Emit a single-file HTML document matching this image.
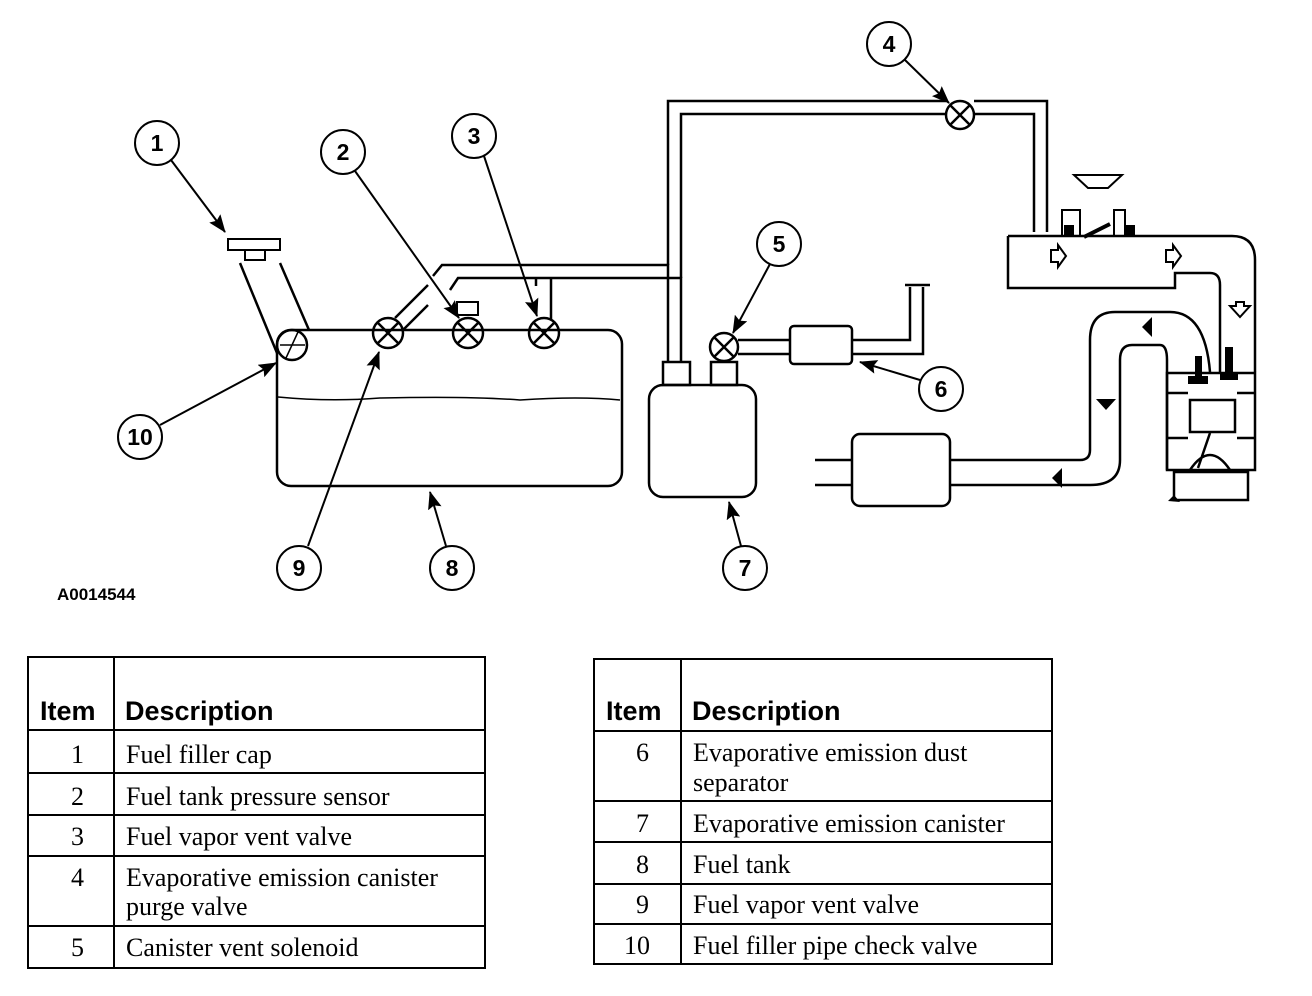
<!DOCTYPE html>
<html><head><meta charset="utf-8"><style>
body{margin:0;background:#fff;width:1312px;height:996px;overflow:hidden}
svg{position:absolute;left:0;top:0}
.n{font:bold 23px "Liberation Sans",sans-serif}
.h{font:bold 27px "Liberation Sans",sans-serif}
.t{font:26px "Liberation Serif",serif}
</style></head><body>
<svg width="1312" height="996" viewBox="0 0 1312 996" fill="none" stroke="#000" stroke-width="2.5">
<defs><marker id="a" markerWidth="18" markerHeight="14" refX="17" refY="7" orient="auto" markerUnits="userSpaceOnUse" viewBox="0 0 18 14"><path d="M0,0 L18,7 L0,14 L3,7z" fill="#000" stroke="none"/></marker></defs>
<!-- tank -->
<rect x="277" y="330" width="345" height="156" rx="14"/>
<path d="M278,397 Q330,402 380,398 Q470,396 520,400 Q580,396 620,400" stroke-width="1.5"/>
<!-- filler -->
<rect x="228" y="239" width="52" height="11" stroke-width="2"/>
<rect x="245" y="250" width="20" height="10" stroke-width="2"/>
<path d="M240,263 L277,353 M280,263 L309,330"/>
<circle cx="292" cy="345" r="15"/>
<path d="M280,345 L305,345 M286,358 L298,332" stroke-width="1.5"/>
<!-- valves -->
<g stroke-width="2.5">
<circle cx="388" cy="333" r="15"/><path d="M377,322 L399,344 M399,322 L377,344"/>
<circle cx="468" cy="333" r="15"/><path d="M457,322 L479,344 M479,322 L457,344"/>
<circle cx="544" cy="333" r="15"/><path d="M533,322 L555,344 M555,322 L533,344"/>
<circle cx="724" cy="347" r="14"/><path d="M714,337 L734,357 M734,337 L714,357"/>
<circle cx="960" cy="115" r="14"/><path d="M950,105 L970,125 M970,105 L950,125"/>
</g>
<rect x="457" y="302" width="21" height="13" stroke-width="2"/>
<!-- pipes -->
<path d="M395,318 L428,285 M403,330 L428,305"/>
<path d="M433,276 L442,265 L668,265 L668,362 M450,290 L458,278 L681,278 L681,362"/>
<path d="M551,278 L551,319 M536,278 L536,286"/>
<path d="M668,265 L668,101 L946,101 M974,101 L1047,101 L1047,232 M681,278 L681,114 L946,114 M974,114 L1034,114 L1034,232"/>
<!-- canister -->
<rect x="649" y="385" width="107" height="112" rx="14"/>
<rect x="663" y="362" width="27" height="23"/><rect x="711" y="362" width="26" height="23"/>
<path d="M738,340 L790,340 M738,354 L790,354"/>
<rect x="790" y="326" width="62" height="38" rx="4"/>
<path d="M852,340 L910,340 L910,287 M852,354 L923,354 L923,287 M905,285 L930,285"/>
<!-- engine -->
<path d="M1008,236 L1232,236 Q1255,236 1255,260 L1255,372"/>
<path d="M1008,236 L1008,288 L1175,288 L1175,273 L1210,273 Q1220,273 1220,285 L1220,372"/>
<path d="M1074,175 L1122,175 L1108,188 L1088,188z" stroke-width="2"/>
<path d="M1062,236 L1062,210 L1080,210 L1080,236 M1114,236 L1114,210 L1125,210 L1125,236" stroke-width="2"/>
<path d="M1084,237 L1110,224" stroke-width="4"/>
<path d="M1051,250 L1058,250 L1058,245 L1066,256 L1058,267 L1058,262 L1051,262z M1166,250 L1173,250 L1173,245 L1181,256 L1173,267 L1173,262 L1166,262z" stroke-width="2"/>
<path d="M1230,306 L1236,306 L1236,302 L1244,302 L1244,306 L1250,306 L1240,317z" stroke-width="2"/>
<path d="M1210,372 Q1205,312 1170,312 L1115,312 Q1090,312 1090,340 L1090,450 Q1090,460 1080,460 L815,460"/>
<path d="M815,485 L1090,485 Q1120,485 1120,460 L1120,360 Q1120,345 1132,345 L1160,345 Q1167,345 1167,360 L1167,470"/>
<rect x="852" y="434" width="98" height="72" rx="8" fill="#fff"/>
<rect x="1167" y="373" width="88" height="97"/>
<rect x="1190" y="400" width="45" height="32"/>
<path d="M1167,393 L1188,393 M1237,393 L1255,393 M1167,438 L1188,438 M1237,438 L1255,438"/>
<rect x="1174" y="472" width="74" height="28"/>
<path d="M1210,433 L1198,468 M1190,470 Q1210,440 1230,470"/>
<g fill="#000" stroke="none">
<rect x="1195" y="356" width="7" height="20"/><rect x="1188" y="376" width="20" height="8"/>
<rect x="1225" y="347" width="8" height="26"/><rect x="1220" y="372" width="18" height="8"/>
<path d="M1142,327 L1152,317 L1152,337z M1096,399 L1116,399 L1106,410z M1052,478 L1062,468 L1062,488z M1168,501 L1174,495 L1180,502z"/>
<rect x="1064" y="225" width="10" height="11"/><rect x="1125" y="225" width="10" height="11"/>
</g>
<!-- callouts -->
<g stroke-width="2">
<circle cx="157" cy="143" r="22"/><circle cx="343" cy="152" r="22"/><circle cx="474" cy="136" r="22"/>
<circle cx="889" cy="44" r="22"/><circle cx="779" cy="244" r="22"/><circle cx="941" cy="389" r="22"/>
<circle cx="745" cy="568" r="22"/><circle cx="452" cy="568" r="22"/><circle cx="299" cy="568" r="22"/>
<circle cx="140" cy="437" r="22"/>
<path d="M171,160 L225,232" marker-end="url(#a)"/>
<path d="M355,171 L459,318" marker-end="url(#a)"/>
<path d="M484,156 L537,316" marker-end="url(#a)"/>
<path d="M905,60 L949,103" marker-end="url(#a)"/>
<path d="M770,264 L733,333" marker-end="url(#a)"/>
<path d="M920,380 L860,362" marker-end="url(#a)"/>
<path d="M741,546 L729,502" marker-end="url(#a)"/>
<path d="M446,546 L430,492" marker-end="url(#a)"/>
<path d="M308,546 L379,352" marker-end="url(#a)"/>
<path d="M160,425 L276,363" marker-end="url(#a)"/>
</g>
<g fill="#000" stroke="none" class="n" text-anchor="middle">
<text x="157" y="151">1</text><text x="343" y="160">2</text><text x="474" y="144">3</text>
<text x="889" y="52">4</text><text x="779" y="252">5</text><text x="941" y="397">6</text>
<text x="745" y="576">7</text><text x="452" y="576">8</text><text x="299" y="576">9</text>
<text x="140" y="445">10</text>
</g>
<text x="57" y="600" fill="#000" stroke="none" style="font:bold 17px 'Liberation Sans',sans-serif">A0014544</text>
<!-- tables -->
<g stroke-width="2">
<rect x="28" y="657" width="457" height="311"/>
<path d="M114,657 L114,968 M28,730 L485,730 M28,773 L485,773 M28,815 L485,815 M28,856 L485,856 M28,926 L485,926"/>
<rect x="594" y="659" width="458" height="305"/>
<path d="M681,659 L681,964 M594,731 L1052,731 M594,801 L1052,801 M594,842 L1052,842 M594,884 L1052,884 M594,924 L1052,924"/>
</g>
<g fill="#000" stroke="none">
<text class="h" x="40" y="720">Item</text><text class="h" x="125" y="720">Description</text>
<text class="h" x="606" y="720">Item</text><text class="h" x="692" y="720">Description</text>
<g class="t">
<text x="71" y="763">1</text><text x="126" y="763">Fuel filler cap</text>
<text x="71" y="805">2</text><text x="126" y="805">Fuel tank pressure sensor</text>
<text x="71" y="845">3</text><text x="126" y="845">Fuel vapor vent valve</text>
<text x="71" y="886">4</text><text x="126" y="886">Evaporative emission canister</text><text x="126" y="915">purge valve</text>
<text x="71" y="956">5</text><text x="126" y="956">Canister vent solenoid</text>
<text x="636" y="761">6</text><text x="693" y="761">Evaporative emission dust</text><text x="693" y="791">separator</text>
<text x="636" y="832">7</text><text x="693" y="832">Evaporative emission canister</text>
<text x="636" y="873">8</text><text x="693" y="873">Fuel tank</text>
<text x="636" y="913">9</text><text x="693" y="913">Fuel vapor vent valve</text>
<text x="624" y="954">10</text><text x="693" y="954">Fuel filler pipe check valve</text>
</g></g>
</svg>
</body></html>
